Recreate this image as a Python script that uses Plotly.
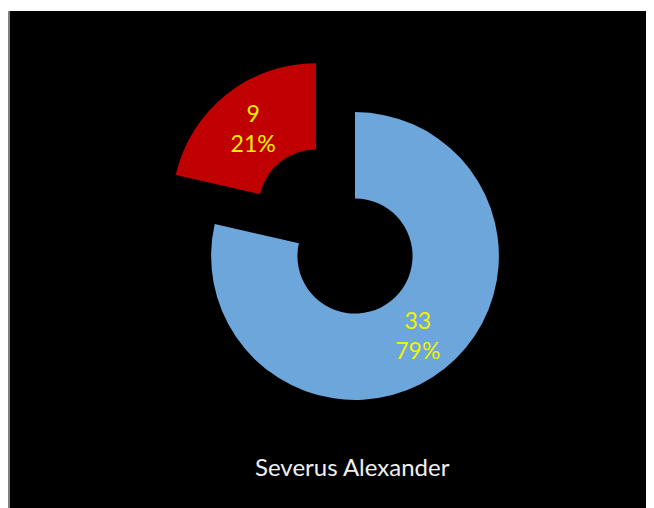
import plotly.graph_objects as go

labels = ["Severus Alexander A", "Severus Alexander B"]
values = [33, 9]
colors = ["#6CA6DA", "#C00000"]
pulls = [0, 0.435]
title_text = "Severus Alexander"

W, H = 654, 508
OFF = 8  # page body margin
cx, cy, box = 355 - OFF, 256 - OFF, 413

fig = go.Figure(go.Pie(
    labels=labels,
    values=values,
    marker=dict(colors=colors, line=dict(width=0)),
    hole=0.4,
    pull=pulls,
    sort=False,
    direction="clockwise",
    rotation=0,
    textinfo="value+percent",
    texttemplate="%{value}<br>%{percent:.0%}",
    textposition="inside",
    insidetextorientation="horizontal",
    textfont=dict(color="#F2F200", size=23, family="Lato"),
    showlegend=False,
    hoverinfo="skip",
    domain=dict(x=[(cx - box / 2) / W, (cx + box / 2) / W],
                y=[1 - (cy + box / 2) / H, 1 - (cy - box / 2) / H]),
))

fig.update_layout(
    width=W, height=H,
    margin=dict(l=0, r=0, t=0, b=0),
    paper_bgcolor="white",
    shapes=[
        dict(type="rect", xref="paper", yref="paper", layer="below",
             x0=1.5 / W, x1=1, y0=0, y1=1 - 3 / H,
             fillcolor="black", line=dict(width=0)),
        dict(type="rect", xref="paper", yref="paper", layer="below",
             x0=0, x1=1.5 / W, y0=0, y1=1 - 3 / H,
             fillcolor="#808080", line=dict(width=0)),
    ],
    annotations=[dict(text=title_text, x=(352 - OFF) / W, y=1 - (466 - OFF) / H,
                      xref="paper", yref="paper", showarrow=False,
                      xanchor="center", yanchor="middle",
                      font=dict(color="#F0F0F0", size=24, family="Lato"))],
)

fig.write_html("out.html")
